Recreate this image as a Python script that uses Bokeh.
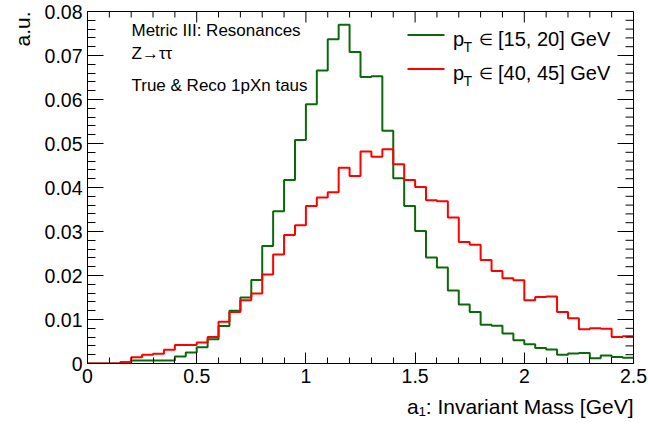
import numpy as np
from bokeh.plotting import figure
from bokeh.models import Range1d, LinearAxis, FixedTicker, CustomJSTickFormatter, Label, Title
from bokeh.embed import file_html
from bokeh.resources import INLINE

# ---------------- data ----------------
bin_low_edges = [0.00, 0.05, 0.10, 0.15, 0.20, 0.25, 0.30, 0.35, 0.40, 0.45,
                 0.50, 0.55, 0.60, 0.65, 0.70, 0.75, 0.80, 0.85, 0.90, 0.95,
                 1.00, 1.05, 1.10, 1.15, 1.20, 1.25, 1.30, 1.35, 1.40, 1.45,
                 1.50, 1.55, 1.60, 1.65, 1.70, 1.75, 1.80, 1.85, 1.90, 1.95,
                 2.00, 2.05, 2.10, 2.15, 2.20, 2.25, 2.30, 2.35, 2.40, 2.45]
last_edge = 2.50

pt_15_20 = [0.0, 0.0, 0.0, 0.0003, 0.0007, 0.0007, 0.0007, 0.0007, 0.0016, 0.0025,
            0.0037, 0.0055, 0.0085, 0.0120, 0.0150, 0.0190, 0.0267, 0.0346, 0.0417, 0.0508,
            0.0589, 0.0666, 0.0737, 0.0770, 0.0708, 0.0651, 0.0653, 0.0529, 0.0421, 0.0358,
            0.0301, 0.0241, 0.0218, 0.0166, 0.0134, 0.0117, 0.0088, 0.0086, 0.0068, 0.0053,
            0.0044, 0.0035, 0.0032, 0.0020, 0.0023, 0.0024, 0.0012, 0.0018, 0.0015, 0.0013]

pt_40_45 = [0.0, 0.0, 0.0, 0.0003, 0.0014, 0.0020, 0.0022, 0.0031, 0.0042, 0.0042,
            0.0048, 0.0060, 0.0095, 0.0117, 0.0144, 0.0159, 0.0202, 0.0248, 0.0292, 0.0314,
            0.0358, 0.0377, 0.0389, 0.0445, 0.0426, 0.0482, 0.0470, 0.0487, 0.0453, 0.0417,
            0.0401, 0.0371, 0.0369, 0.0332, 0.0276, 0.0270, 0.0235, 0.0210, 0.0194, 0.0189,
            0.0144, 0.0151, 0.0152, 0.0117, 0.0103, 0.0078, 0.0080, 0.0079, 0.0060, 0.0062]

x_major_ticks = [0.0, 0.5, 1.0, 1.5, 2.0, 2.5]
x_minor_ticks = [0.1, 0.2, 0.3, 0.4, 0.6, 0.7, 0.8, 0.9, 1.1, 1.2, 1.3, 1.4,
                 1.6, 1.7, 1.8, 1.9, 2.1, 2.2, 2.3, 2.4]
y_major_ticks = [0.0, 0.01, 0.02, 0.03, 0.04, 0.05, 0.06, 0.07, 0.08]
y_minor_ticks = [0.002, 0.004, 0.006, 0.008, 0.012, 0.014, 0.016, 0.018,
                 0.022, 0.024, 0.026, 0.028, 0.032, 0.034, 0.036, 0.038,
                 0.042, 0.044, 0.046, 0.048, 0.052, 0.054, 0.056, 0.058,
                 0.062, 0.064, 0.066, 0.068, 0.072, 0.074, 0.076, 0.078]

series_labels = ["[15, 20] GeV", "[40, 45] GeV"]
info_lines = ["Metric III: Resonances", "Z\u2192\u03c4\u03c4", "True & Reco 1pXn taus"]
x_title = "a\u2081: Invariant Mass [GeV]"
y_title = "a.u."

GREEN = "#0a6a0a"
RED = "#ff0000"
FONT = "Liberation Sans"

X0, X1 = 0.0, 2.5
Y0, Y1 = 0.0, 0.08

# ---------------- figure ----------------
W, H = 648, 430
ML, MR, MT, MB = 87, 15, 11, 67
FW = W - ML - MR
FH = H - MT - MB

p = figure(width=W, height=H, output_backend="svg", toolbar_location=None,
           x_range=Range1d(X0, X1), y_range=Range1d(Y0, Y1),
           min_border_left=ML, min_border_right=MR,
           min_border_top=MT, min_border_bottom=MB,
           x_axis_type=None, y_axis_type=None)
p.outline_line_color = "black"
p.outline_line_width = 1
p.background_fill_color = "white"
p.border_fill_color = "white"
p.xgrid.visible = False
p.ygrid.visible = False

fmt = CustomJSTickFormatter(code="""
var s = tick.toFixed(3);
s = s.replace(/0+$/, '').replace(/\\.$/, '');
return s;
""")

def style_axis(ax, major_in, minor_in, ticks, minor):
    ax.ticker = FixedTicker(ticks=ticks, minor_ticks=minor)
    ax.major_tick_in = major_in
    ax.major_tick_out = 0
    ax.minor_tick_in = minor_in
    ax.minor_tick_out = 0
    ax.axis_line_color = "black"
    ax.major_tick_line_color = "black"
    ax.minor_tick_line_color = "black"
    ax.formatter = fmt
    ax.major_label_text_font = FONT
    ax.major_label_text_font_size = "19.5px"
    ax.major_label_text_color = "black"
    ax.major_label_standoff = 5

xb = LinearAxis()
style_axis(xb, 11, 6, x_major_ticks, x_minor_ticks)
p.add_layout(xb, "below")

yl = LinearAxis()
style_axis(yl, 16, 8, y_major_ticks, y_minor_ticks)
p.add_layout(yl, "left")

# axis titles, right-aligned at the end of each axis (ROOT style)
p.add_layout(Title(text=x_title, align="right", text_font=FONT, text_font_size="21px",
                   text_font_style="normal", text_color="black", standoff=14), "below")
p.add_layout(Title(text=y_title, align="right", text_font=FONT, text_font_size="21px",
                   text_font_style="normal", text_color="black", standoff=15), "left")

# ---------------- histograms ----------------
edges = bin_low_edges + [last_edge]
p.step(x=edges, y=pt_15_20 + [pt_15_20[-1]], mode="after",
       line_color=GREEN, line_width=2)
p.step(x=edges, y=pt_40_45 + [pt_40_45[-1]], mode="after",
       line_color=RED, line_width=2)

# ---------------- helpers (screen px of the frame -> data) ----------------
def dx(sx):
    return sx / FW * (X1 - X0)

def dy(sy):
    return sy / FH * (Y1 - Y0)

# ---------------- mirrored ticks on top and right frame edges ----------------
p.segment(x0=x_major_ticks, x1=x_major_ticks, y0=[Y1] * len(x_major_ticks),
          y1=[Y1 - dy(11)] * len(x_major_ticks), line_color="black", line_width=1)
p.segment(x0=x_minor_ticks, x1=x_minor_ticks, y0=[Y1] * len(x_minor_ticks),
          y1=[Y1 - dy(6)] * len(x_minor_ticks), line_color="black", line_width=1)
p.segment(x0=[X1] * len(y_major_ticks), x1=[X1 - dx(16)] * len(y_major_ticks),
          y0=y_major_ticks, y1=y_major_ticks, line_color="black", line_width=1)
p.segment(x0=[X1] * len(y_minor_ticks), x1=[X1 - dx(8)] * len(y_minor_ticks),
          y0=y_minor_ticks, y1=y_minor_ticks, line_color="black", line_width=1)

def lab(text, sx, sy_base, size_px, **kw):
    # sy_base: baseline height above the frame bottom; placed by its middle
    p.add_layout(Label(x=sx, y=sy_base + 0.3465 * size_px, x_units="screen", y_units="screen",
                       text=text, text_font=FONT, text_font_size=f"{size_px}px",
                       text_color="black", text_baseline="middle", **kw))

# ---------------- info text ----------------
lab(info_lines[0], 44, 327, 17)
lab(info_lines[1], 44, 304, 17)
lab(info_lines[2], 44, 272.5, 17)

# ---------------- legend ----------------
leg_rows = [(318, GREEN), (284, RED)]
for (sy, col), txt in zip(leg_rows, series_labels):
    p.segment(x0=dx(320), x1=dx(357), y0=dy(sy + 10.5), y1=dy(sy + 10.5),
              line_color=col, line_width=2)
    lab("p", 365.5, sy, 20)
    lab("T", 376, sy - 6.5, 14)
    lab("\u2208", 391, sy + 0.5, 16)
    lab(txt, 410.5, sy, 20)

open("out.html", "w").write(file_html(p, INLINE))
